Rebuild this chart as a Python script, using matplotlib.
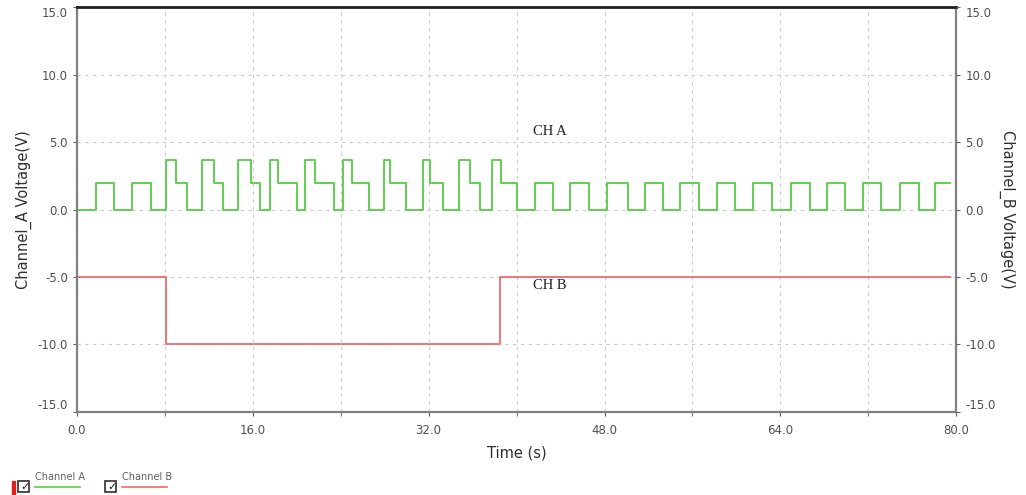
import matplotlib
matplotlib.use("Agg")
import matplotlib.pyplot as plt
from matplotlib.lines import Line2D
from matplotlib.patches import Rectangle
from matplotlib.ticker import MultipleLocator

# channel A: step breakpoints (value holds until next time)
ch_a_time = [0.0, 0.05, 1.7, 3.4, 5.0, 6.7, 8.1, 9.0, 10.0, 11.4, 12.5, 13.3,
             14.65, 15.8, 16.65, 17.55, 18.3, 20.0, 20.75, 21.65, 23.4, 24.2,
             25.0, 26.6, 27.9, 28.5, 29.9, 31.5, 32.1, 33.3, 34.8, 35.8, 36.7,
             37.8, 38.6, 40.0, 41.7, 43.3, 44.9, 46.6, 48.2, 50.1, 51.7, 53.3,
             54.9, 56.6, 58.2, 59.9, 61.5, 63.2, 64.95, 66.7, 68.2, 69.9, 71.5,
             73.2, 74.9, 76.6, 78.1, 79.4]
ch_a_volt = [2, 0, 2, 0, 2, 0, 3.7, 2, 0, 3.7, 2, 0,
             3.7, 2, 0, 3.7, 2, 0, 3.7, 2, 0, 3.7,
             2, 0, 3.7, 2, 0, 3.7, 2, 0, 3.7, 2, 0,
             3.7, 2, 0, 2, 0, 2, 0, 2, 0, 2, 0,
             2, 0, 2, 0, 2, 0, 2, 0, 2, 0, 2,
             0, 2, 0, 2, 2]

# channel B
ch_b_time = [0.0, 8.1, 38.5, 79.4]
ch_b_volt = [-5, -10, -5, -5]

x_ticks = [0, 16, 32, 48, 64, 80]
y_ticks = [-15, -10, -5, 0, 5, 10, 15]

green = "#55cc44"
red = "#f06a6a"
txt = "#505050"

fig = plt.figure(figsize=(10.26, 4.95), dpi=100)
ax = fig.add_axes([0.075, 0.168, 0.857, 0.817])

ax.plot(ch_a_time, ch_a_volt, drawstyle="steps-post", color=green, lw=1.3)
ax.plot(ch_b_time, ch_b_volt, drawstyle="steps-post", color=red, lw=1.3)

ax.set_xlim(0, 80)
ax.set_ylim(-15, 15)
ax.set_xticks(x_ticks)
ax.set_xticklabels([f"{v:.1f}" for v in x_ticks])
ax.xaxis.set_minor_locator(MultipleLocator(8))
ax.set_yticks(y_ticks)
ax.set_yticklabels([f"{v:.1f}" for v in y_ticks])
ax.grid(True, which="both", ls=(0, (3, 4)), color="#cccccc", lw=0.8)
ax.tick_params(which="both", length=3, color="#606060", labelsize=8.5, labelcolor=txt)
ax.tick_params(axis="x", pad=6)

for side in ["left", "right", "bottom"]:
    ax.spines[side].set_color("#808080")
    ax.spines[side].set_linewidth(1.6)
ax.spines["top"].set_color("#202020")
ax.spines["top"].set_linewidth(2)

ax2 = ax.twinx()
ax2.set_ylim(-15, 15)
ax2.set_yticks(y_ticks)
ax2.set_yticklabels([f"{v:.1f}" for v in y_ticks])
ax2.tick_params(length=3, color="#606060", labelsize=8.5, labelcolor=txt)
for s in ax2.spines.values():
    s.set_visible(False)

# edge labels sit inside the plot height, like the original software
for a in (ax, ax2):
    labs = a.get_yticklabels()
    labs[0].set_va("bottom")
    labs[-1].set_va("top")

ax.set_xlabel("Time (s)", fontsize=10.5, color="#303030", labelpad=6)
ax.set_ylabel("Channel_A Voltage(V)", fontsize=10.5, color="#303030", labelpad=4)
ax2.set_ylabel("Channel_B Voltage(V)", fontsize=10.5, color="#303030",
               rotation=270, labelpad=14)

ax.text(43.0, 5.8, "CH A", family="Liberation Serif", fontsize=10.5,
        color="#202020", ha="center", va="center")
ax.text(43.0, -5.6, "CH B", family="Liberation Serif", fontsize=10.5,
        color="#202020", ha="center", va="center")

# legend strip at the bottom
fig.patches.append(Rectangle((12 / 1026, 0), 3 / 1026, 14 / 495,
                             transform=fig.transFigure, color="#e02020"))
for bx, label, col in [(18, "Channel A", green), (105, "Channel B", red)]:
    fig.patches.append(Rectangle((bx / 1026, 1 - 492 / 495), 11 / 1026, 11 / 495,
                                 transform=fig.transFigure, fill=False,
                                 ec="#303030", lw=1.2))
    fig.text((bx + 2) / 1026, 1 - 487 / 495, "\u2713", fontsize=8,
             va="center", color="#202020")
    fig.text((bx + 17) / 1026, 1 - 477 / 495, label, fontsize=7, color="#606060",
             va="center")
    fig.lines.append(Line2D([(bx + 17) / 1026, (bx + 62) / 1026],
                            [1 - 487 / 495] * 2, transform=fig.transFigure,
                            color=col, lw=1.2))

fig.savefig("out.png", dpi=100)
